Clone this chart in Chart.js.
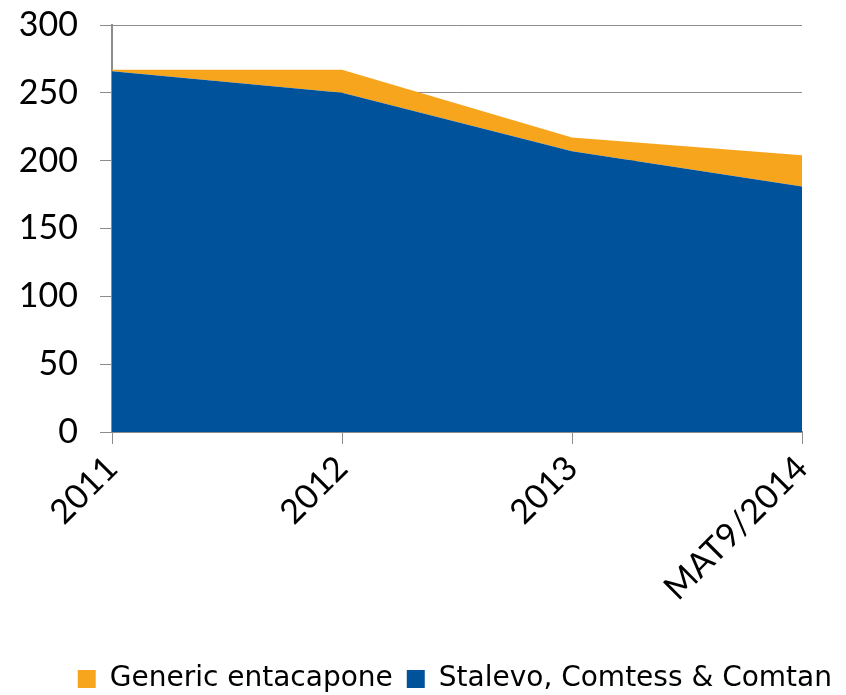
<!DOCTYPE html>
<html>
<head>
<meta charset="utf-8">
<script src="https://cdn.jsdelivr.net/npm/chart.js@4.4.0/dist/chart.umd.min.js"></script>
<style>
  html, body { margin: 0; padding: 0; background: #fff; }
  #wrap { width: 846px; height: 695px; }
</style>
</head>
<body>
<div id="wrap"><canvas id="chart" width="846" height="695"></canvas></div>
<script>
// 데이터
const categories = ['2011', '2012', '2013', 'MAT9/2014'];
const brandValues = [266, 250, 207, 181];   // Stalevo, Comtess & Comtan
const genericValues = [1, 17, 10, 23];      // Generic entacapone
const yTicks = [0, 50, 100, 150, 200, 250, 300];

const ORANGE = '#F7A51D';
const BLUE = '#00539B';
const GRID = '#8C8C8C';

const ctx = document.getElementById('chart').getContext('2d');
new Chart(ctx, {
    type: 'line',
    data: {
        labels: categories,
        datasets: [
            {
                label: 'Stalevo, Comtess & Comtan',
                data: brandValues,
                backgroundColor: BLUE,
                borderColor: BLUE,
                borderWidth: 0,
                pointRadius: 0,
                fill: 'origin'
            },
            {
                label: 'Generic entacapone',
                data: genericValues,
                backgroundColor: ORANGE,
                borderColor: ORANGE,
                borderWidth: 0,
                pointRadius: 0,
                fill: '-1'
            }
        ]
    },
    options: {
        responsive: false,
        animation: false,
        layout: { padding: { top: 0, right: 0, left: 0, bottom: -8 } },
        plugins: {
            tooltip: { enabled: false },
            legend: {
                position: 'bottom',
                align: 'end',
                reverse: true,
                labels: {
                    boxWidth: 18,
                    boxHeight: 18,
                    padding: 14,
                    color: '#000',
                    font: { family: 'DejaVu Sans', size: 28 }
                }
            }
        },
        scales: {
            x: {
                offset: false,
                grid: { drawOnChartArea: false, drawTicks: true, tickLength: 12, color: GRID },
                border: { display: true, color: GRID, width: 2 },
                ticks: {
                    color: '#000',
                    font: { family: 'Lato', size: 34 },
                    minRotation: 45,
                    maxRotation: 45,
                    padding: 4
                },
                afterFit: (scale) => {
                    scale.height = 219;
                    scale.paddingLeft = 0;
                    scale.paddingRight = 44;
                }
            },
            y: {
                stacked: true,
                min: 0,
                max: 300,
                afterBuildTicks: (scale) => { scale.ticks = yTicks.map(v => ({ value: v })); },
                grid: { color: GRID, lineWidth: 1, tickLength: 12 },
                border: { display: true, color: GRID, width: 2 },
                ticks: {
                    color: '#000',
                    font: { family: 'Lato', size: 34 },
                    padding: 22
                },
                afterFit: (scale) => {
                    scale.width = 112;
                    scale.paddingTop = 25;
                    scale.paddingBottom = 0;
                }
            }
        }
    }
});
</script>
</body>
</html>
